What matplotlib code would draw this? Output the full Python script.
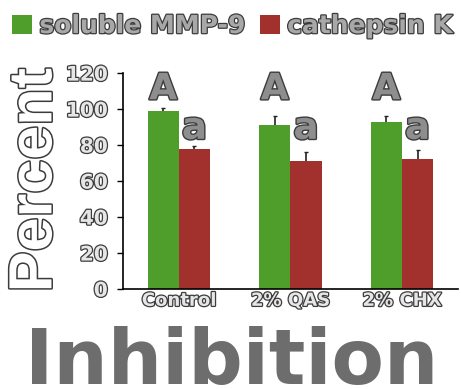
import numpy as np
import matplotlib
matplotlib.use("Agg")
from matplotlib import pyplot as plt
from matplotlib import patheffects as pe

# data
groups = ["Control", "2% QAS", "2% CHX"]
mmp9 = [99, 91, 93]
mmp9_err = [1.5, 5, 3]
catk = [78, 71, 72]
catk_err = [1.5, 5, 5]
letters_mmp9 = ["A", "A", "A"]
letters_catk = ["a", "a", "a"]
yticks = [0, 20, 40, 60, 80, 100, 120]

green = "#4f9e2c"
red = "#a2312d"
outline = "#3c3c3c"

def hollow(lw=1.6):
    return [pe.withStroke(linewidth=lw, foreground=outline)]

fig = plt.figure(figsize=(4.61, 3.89), dpi=100)
ax = fig.add_axes([0.267, 0.257, 0.726, 0.555])

x = np.arange(len(groups))
w = 0.28
ekw = {"elinewidth": 1.2, "zorder": 1}
ax.bar(x - w / 2, mmp9, w, yerr=mmp9_err, color=green, ecolor="#222222",
       capsize=1.5, error_kw=ekw, label="soluble MMP-9", zorder=2)
ax.bar(x + w / 2, catk, w, yerr=catk_err, color=red, ecolor="#222222",
       capsize=1.5, error_kw=ekw, label="cathepsin K", zorder=2)

for i in range(len(groups)):
    ax.text(x[i] - w / 2, 105.5, letters_mmp9[i], ha="center", va="baseline",
            fontsize=26, fontweight="bold", color="#8e8e8e",
            path_effects=hollow(2))
    ax.text(x[i] + w / 2, 83.5, letters_catk[i], ha="center", va="baseline",
            fontsize=27, fontweight="bold", color="#8e8e8e",
            path_effects=hollow(2))

ax.set_xlim(-0.5, 2.5)
ax.set_ylim(0, 120)
ax.set_yticks(yticks)
ax.set_xticks(x)
ax.set_xticklabels(groups)
ax.spines["top"].set_visible(False)
ax.spines["right"].set_visible(False)
ax.spines["left"].set_bounds(0, 120)
ax.spines["left"].set_linewidth(1.2)
ax.spines["bottom"].set_linewidth(1.2)
ax.tick_params(axis="y", length=4, width=1, pad=7)
ax.tick_params(axis="x", length=0, pad=2)
for t in ax.get_yticklabels():
    t.set_fontsize(14.5)
    t.set_fontweight("bold")
    t.set_color("#e6e6e6")
    t.set_path_effects(hollow(1.8))
for t in ax.get_xticklabels():
    t.set_fontsize(13)
    t.set_fontweight("bold")
    t.set_color("#e6e6e6")
    t.set_path_effects(hollow(1.8))

leg = fig.legend(loc="center left", bbox_to_anchor=(0.016, 0.933), ncol=2,
                 frameon=False, prop={"size": 18, "weight": "bold"},
                 handlelength=0.8, handleheight=0.8, handletextpad=0.28,
                 columnspacing=0.6, borderaxespad=0, borderpad=0.2)
for t in leg.get_texts():
    t.set_color("#a8a8a8")
    t.set_path_effects(hollow(1.8))

fig.text(0.078, 0.537, "Percent", rotation=90, ha="center", va="center",
         fontsize=44, fontweight="bold", family="Liberation Sans",
         color="white", path_effects=hollow(2.2))
fig.text(0.503, 1 - 384 / 389, "Inhibition", ha="center", va="baseline",
         fontsize=55, fontweight="bold", color="#6d6d6d")

fig.savefig("out.png", dpi=100)
